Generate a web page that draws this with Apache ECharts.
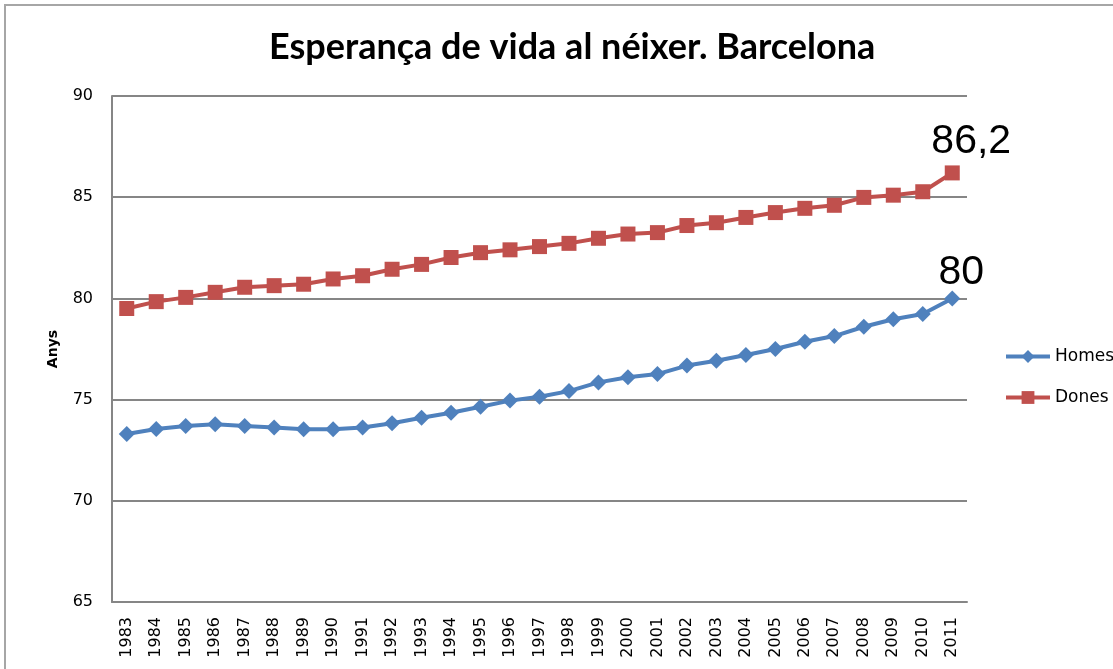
<!DOCTYPE html>
<html>
<head>
<meta charset="utf-8">
<script src="https://cdn.jsdelivr.net/npm/echarts@6/dist/echarts.min.js"></script>
<style>
    body { margin: 0; background: #fff; }
    #chart { position: absolute; left: 0; top: 0; width: 1113px; height: 669px; }
    #frame { position: absolute; left: 4px; top: 4px; width: 1200px; height: 700px;
             border-top: 2px solid #a6a6a6; border-left: 2px solid #a6a6a6; pointer-events: none; }
</style>
</head>
<body>
<div id="chart"></div>
<div id="frame"></div>
<script>
var years = ['1983', '1984', '1985', '1986', '1987', '1988', '1989', '1990', '1991', '1992',
    '1993', '1994', '1995', '1996', '1997', '1998', '1999', '2000', '2001', '2002',
    '2003', '2004', '2005', '2006', '2007', '2008', '2009', '2010', '2011'];

var homes = [73.3, 73.55, 73.7, 73.78, 73.7, 73.62, 73.53, 73.53, 73.62, 73.83,
    74.1, 74.35, 74.65, 74.95, 75.14, 75.42, 75.85, 76.1, 76.26, 76.68,
    76.92, 77.2, 77.5, 77.86, 78.14, 78.6, 78.97, 79.23, 80];

var dones = [79.5, 79.84, 80.05, 80.3, 80.55, 80.63, 80.7, 80.96, 81.12, 81.44,
    81.68, 82.02, 82.26, 82.4, 82.56, 82.72, 82.97, 83.18, 83.25, 83.6,
    83.74, 84.0, 84.24, 84.45, 84.6, 84.99, 85.1, 85.27, 86.2];

var yTicks = { min: 65, max: 90, step: 5 };

var myChart = echarts.init(document.getElementById('chart'));

function lastLabel (params) {
    if (params.dataIndex !== years.length - 1) return '';
    return String(params.value).replace('.', ',');
}

myChart.setOption({
    animation: false,
    title: {
        text: 'Esperança de vida al néixer. Barcelona',
        left: 264,
        top: 24,
        textStyle: {
            fontFamily: 'Lato',
            fontWeight: 'bold',
            fontSize: 36,
            color: '#000'
        }
    },
    legend: {
        orient: 'vertical',
        left: 999,
        top: 343,
        itemWidth: 44,
        itemHeight: 16,
        itemGap: 24,
        lineStyle: { width: 4 },
        textStyle: {
            fontFamily: 'DejaVu Sans',
            fontSize: 17,
            color: '#000'
        },
        data: ['Homes', 'Dones']
    },
    grid: {
        left: 112,
        right: 146,
        top: 96,
        bottom: 67
    },
    xAxis: {
        type: 'category',
        boundaryGap: true,
        data: years,
        axisLine: {
            lineStyle: { color: '#868686', width: 2 }
        },
        axisTick: { show: false },
        axisLabel: {
            rotate: 90,
            interval: 0,
            margin: 15,
            fontFamily: 'DejaVu Sans',
            fontSize: 16,
            color: '#000'
        }
    },
    yAxis: {
        type: 'value',
        min: yTicks.min,
        max: yTicks.max,
        interval: yTicks.step,
        name: 'Anys',
        nameLocation: 'middle',
        nameGap: 52,
        nameTextStyle: {
            fontFamily: 'DejaVu Sans',
            fontWeight: 'bold',
            fontSize: 14,
            color: '#000'
        },
        axisLine: {
            show: true,
            lineStyle: { color: '#868686', width: 2 }
        },
        axisTick: { show: false },
        axisLabel: {
            margin: 19,
            fontFamily: 'DejaVu Sans',
            fontSize: 16,
            color: '#000'
        },
        splitLine: {
            lineStyle: { color: '#868686', width: 2 }
        }
    },
    series: [{
        name: 'Homes',
        type: 'line',
        data: homes,
        symbol: 'diamond',
        symbolSize: 16,
        lineStyle: { color: '#4f81bd', width: 4 },
        itemStyle: { color: '#4f81bd' },
        label: {
            show: true,
            position: 'top',
            offset: [9, 8],
            formatter: lastLabel,
            fontFamily: 'Liberation Sans',
            fontSize: 41,
            color: '#000'
        }
    }, {
        name: 'Dones',
        type: 'line',
        data: dones,
        symbol: 'rect',
        symbolSize: 15,
        lineStyle: { color: '#c0504d', width: 4 },
        itemStyle: { color: '#c0504d' },
        label: {
            show: true,
            position: 'top',
            offset: [19, 2],
            formatter: lastLabel,
            fontFamily: 'Liberation Sans',
            fontSize: 41,
            color: '#000'
        }
    }]
});
</script>
</body>
</html>
